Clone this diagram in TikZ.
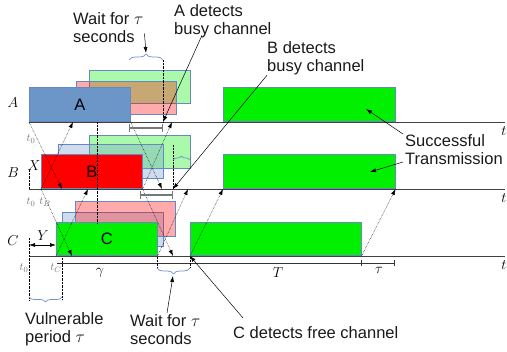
\documentclass[tikz,border=0pt]{standalone}
\usepackage{fontspec}
\setmainfont{Liberation Sans}
\usetikzlibrary{arrows.meta,decorations.pathreplacing}

\definecolor{edge}{RGB}{105,135,195}
\definecolor{fillA}{RGB}{108,150,200}
\definecolor{fillB}{RGB}{255,0,0}
\definecolor{fillC}{RGB}{0,240,0}
\definecolor{bracecol}{RGB}{110,145,205}
\definecolor{tcol}{RGB}{120,120,120}

\tikzset{
  box/.style={draw=edge, line width=0.6pt, anchor=south west, inner sep=0pt,
    minimum height=34pt, font=\fontsize{16.5}{18}\selectfont},
  ghost/.style={box, fill opacity=0.33, minimum height=33pt},
  prop/.style={->, densely dotted, line width=0.5pt},
  note/.style={->, line width=0.5pt},
  brc/.style={draw=bracecol, line width=0.7pt, decorate, decoration={brace, amplitude=#1}},
  txt/.style={anchor=north west, inner sep=0pt, align=left, text=black!90,
    font=\fontsize{16.5}{18.5}\selectfont},
  mlab/.style={inner sep=0pt, font=\fontsize{15}{15}\selectfont},
  tlab/.style={inner sep=0pt, text=tcol, font=\fontsize{11}{11}\selectfont},
}

\begin{document}
\begin{tikzpicture}[x=1pt,y=-1pt,>={Latex[length=6pt,width=4pt]}]
   \useasboundingbox (0,0) rectangle (507,352);
   \foreach \y/\ly/\n in {122/103/A,189/173/B,256/241/C} {
    \draw[black!75,line width=0.6pt] (29,\y) -- (505,\y);
    \node[mlab] (lab\n) at (13,\ly) {$\n$};
    \node[mlab] (t\n) at (504,\y+9) {$t$};
   }
   \draw[black!80,line width=0.6pt] (57,263) -- (394,263);
   \foreach \x in {361,394} \draw[black!80] (\x,260) -- (\x,266);
   \foreach \x in {157,190} \draw[densely dotted] (\x,257) -- (\x,268);

   \node[ghost, fill=fillC, minimum width=101pt] (gAc) at (89,104) {};
   \node[ghost, fill=fillB, minimum width=100pt] (gAb) at (76,115) {};
   \node[box, fill=fillA, minimum width=101pt] (A) at (29,122) {A};
   \node[box, fill=fillC, minimum width=172pt] (okA) at (223,122) {};

   \node[ghost, fill=fillC, minimum width=101pt] (gBc) at (89,169) {};
   \node[ghost, fill=fillA, minimum width=105pt, minimum height=34pt] (gBa) at (58,179) {};
   \node[box, fill=fillB, minimum width=101pt] (B) at (41,189) {B};
   \node[box, fill=fillC, minimum width=172pt] (okB) at (223,189) {};

   \node[ghost, fill=fillA, minimum width=101pt, minimum height=34pt] (gCa) at (62,247) {};
   \node[ghost, fill=fillB, minimum width=100pt, minimum height=35pt] (gCb) at (75,237) {};
   \node[box, fill=fillC, minimum width=101pt, minimum height=33pt] (C) at (56,256) {C};
   \node[box, fill=fillC, minimum width=171pt, minimum height=33pt] (okC) at (190,256) {};

   \coordinate (A2B) at (62,189);
   \coordinate (B2A) at (73,122);
   \coordinate (B2C) at (72,256);
   \coordinate (C2B) at (88,189);
   \coordinate (Ae2B) at (162,189);
   \coordinate (Be2A) at (172,122);
   \coordinate (Be2C) at (173,256);
   \coordinate (Ce2B) at (188,189);
   \foreach \a/\b in {A.south west/A2B, B.south west/B2A, B.south west/B2C,
     C.south west/C2B, A.south east/Ae2B, B.south east/Be2A, B.south east/Be2C,
     C.south east/Ce2B, okC.south west/okB.south west, okC.south east/okB.south east}
    \draw[prop] (\a) -- (\b);

   \draw[densely dotted] (97,122) -- (97,223);
   \draw[densely dotted] (163,60) -- (163,122);
   \draw[densely dotted] (173,145) -- (173,189);
   \draw[densely dotted] (29,170) -- (29,189);
   \draw[densely dotted] (29,238) -- (29,300);
   \draw[densely dotted] (62,258) -- (62,300);

   \draw[tcol,line width=1.2pt,|-|] (129,128) -- (163,128);
   \draw[tcol,line width=1.2pt,|-|] (140,195) -- (173,195);

   \draw[brc=6pt] (129,60) -- (163,60);
   \draw[brc=4pt] (173,160) -- (190,160);
   \draw[brc=6pt] (190,268) -- (157,268);
   \draw[brc=5pt] (62,297) -- (29,297);
   \coordinate (tipA) at (146,53);
   \coordinate (tipC) at (173,276);

   \draw[<->,line width=0.6pt] (29,245) -- (56,245);
   \node[mlab] (labY) at (43,236) {$Y$};
   \node[mlab] (labX) at (34,166) {$X$};
   \node[mlab] (gam) at (100,273) {$\gamma$};
   \node[mlab] (labT) at (278,273) {$T$};
   \node[mlab] (tau) at (379,270) {$\tau$};

   \node[tlab] (t0A) at (31,139) {$t_0$};
   \node[tlab] (t0B) at (31,202) {$t_0$};
   \node[tlab] (tB) at (45,202) {$t_B$};
   \node[tlab] (t0C) at (24,268) {$t_0$};
   \node[tlab] (tC) at (56,268) {$t_C$};

   \node[txt] (waitA) at (73,12) {Wait for $\tau$\\seconds};
   \node[txt] (detA) at (174,4) {A detects\\busy channel};
   \node[txt] (detB) at (267,41) {B detects\\busy channel};
   \node[txt] (success) at (405,134) {Successful\\Transmission};
   \node[txt] (vuln) at (25,312) {Vulnerable\\period $\tau$};
   \node[txt] (waitC) at (130,314) {Wait for $\tau$\\seconds};
   \node[txt] (detC) at (233,326) {C detects free channel};

   \coordinate (wA) at (163,122);
   \coordinate (wB) at (173,189);
   \coordinate (okAin) at (366,109);
   \coordinate (okBin) at (370,172);
   \draw[note] ([xshift=1pt,yshift=-6pt]waitA.east) -- (tipA);
   \draw[note] ([xshift=28pt,yshift=3pt]detA.south west) -- (wA);
   \draw[note] (detB.south west) -- (wB);
   \draw[note] ([xshift=10pt,yshift=8pt]detC.north west) -- (okC.south west);
   \draw[note] ([xshift=-2pt]success.north west) -- (okAin);
   \draw[note] ([xshift=-2pt,yshift=-28pt]success.north west) -- (okBin);
   \draw[note] ([xshift=37pt,yshift=1pt]waitC.north west) -- (tipC);
  \end{tikzpicture}
\end{document}
